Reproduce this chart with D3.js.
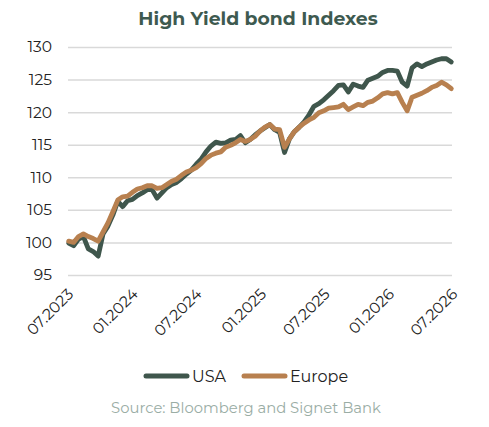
<!DOCTYPE html>
<html><head><meta charset="utf-8">
<script src="https://cdn.jsdelivr.net/npm/d3@7"></script>
<style>body{margin:0;background:#fff}svg{display:block}</style>
</head><body>
<svg id="c" width="489" height="427"></svg>
<script>
const dates = ["2023-07-03","2023-07-17","2023-07-31","2023-08-14","2023-08-28","2023-09-11","2023-09-25","2023-10-09","2023-10-23","2023-11-06","2023-11-20","2023-12-04","2023-12-18",
"2024-01-01","2024-01-15","2024-01-29","2024-02-12","2024-02-26","2024-03-11","2024-03-25","2024-04-08","2024-04-22","2024-05-06","2024-05-20","2024-06-03","2024-06-17","2024-07-01","2024-07-15","2024-07-29","2024-08-12","2024-08-26","2024-09-09","2024-09-23","2024-10-07","2024-10-21","2024-11-04","2024-11-18","2024-12-02","2024-12-16","2024-12-30",
"2025-01-13","2025-01-27","2025-02-10","2025-02-24","2025-03-10","2025-03-24","2025-04-07","2025-04-21","2025-05-05","2025-05-19","2025-06-02","2025-06-16","2025-06-30","2025-07-14","2025-07-28","2025-08-11","2025-08-25","2025-09-08","2025-09-22","2025-10-06","2025-10-20","2025-11-03","2025-11-17","2025-12-01","2025-12-15","2025-12-29",
"2026-01-12","2026-01-26","2026-02-09","2026-02-23","2026-03-09","2026-03-23","2026-04-06","2026-04-20","2026-05-04","2026-05-18","2026-06-01","2026-06-15","2026-06-29"];
const usa = [99.9,99.5,100.5,100.9,99.0,98.6,97.9,101.3,102.5,104.2,106.3,105.5,106.4,
106.6,107.2,107.6,108.1,108.1,106.8,107.6,108.4,108.9,109.2,109.8,110.5,111.1,112.0,112.8,113.9,114.8,115.4,115.2,115.3,115.7,115.8,116.4,115.3,115.8,116.5,117.1,
117.6,118.1,117.3,116.9,113.8,115.9,117.0,117.7,118.5,119.6,120.9,121.3,121.9,122.6,123.3,124.1,124.2,123.1,124.3,124.0,123.8,124.9,125.2,125.5,126.1,126.4,
126.4,126.3,124.6,124.0,126.8,127.4,127.0,127.4,127.7,128.0,128.2,128.2,127.7];
const europe = [100.2,100.0,100.9,101.3,100.9,100.6,100.2,101.6,103.0,104.7,106.5,107.0,107.1,
107.7,108.2,108.4,108.7,108.7,108.3,108.4,108.9,109.4,109.7,110.3,110.8,111.1,111.5,112.1,112.9,113.4,113.7,113.9,114.6,114.9,115.3,115.8,115.5,115.8,116.3,117.1,
117.7,118.1,117.4,117.3,114.6,115.9,117.0,117.7,118.3,118.8,119.2,119.9,120.2,120.6,120.7,120.8,121.2,120.4,120.8,121.2,121.0,121.5,121.7,122.2,122.8,123.0,
122.8,123.0,121.5,120.2,122.3,122.6,122.9,123.3,123.8,124.1,124.6,124.2,123.6];
const yTicks = [95,100,105,110,115,120,125,130];
const xTickLabels = ["07.2023","01.2024","07.2024","01.2025","07.2025","01.2026","07.2026"];
const xTickDates = ["2023-07-01","2024-01-01","2024-07-01","2025-01-01","2025-07-01","2026-01-01","2026-07-01"];
const seriesNames = ["USA","Europe"];
const colors = ["#3f564c","#b8804f"];

const FONT = "Montserrat, 'DejaVu Sans', sans-serif";
const svg = d3.select("#c");
const parse = d3.utcParse("%Y-%m-%d");
const L = 68, R = 452, T = 47, B = 275;
const x = d3.scaleUtc().domain([parse(xTickDates[0]), parse(xTickDates[xTickDates.length-1])]).range([L, R]);
const y = d3.scaleLinear().domain([95,130]).range([B, T]);

svg.append("text").attr("x", 258).attr("y", 25).attr("text-anchor","middle")
  .attr("font-family", FONT).attr("font-weight","bold").attr("font-size", 18.8)
  .attr("fill","#3e5a50").text("High Yield bond Indexes");

const yAxis = d3.axisLeft(y).tickValues(yTicks).tickSize(-(R-L)).tickFormat(d3.format("d"));
const gy = svg.append("g").attr("transform",`translate(${L},0)`).call(yAxis);
gy.select(".domain").remove();
gy.selectAll(".tick line").attr("stroke","#d9d9d9").attr("stroke-width",1.5);
gy.selectAll(".tick text").attr("x",-16).attr("font-family",FONT).attr("font-size",15.5).attr("fill","#222");

const xAxis = d3.axisBottom(x).tickValues(xTickDates.map(parse)).tickSize(0)
  .tickFormat((d,i)=>xTickLabels[i]);
const gx = svg.append("g").attr("transform",`translate(0,${B})`).call(xAxis);
gx.select(".domain").remove();
gx.selectAll(".tick text").attr("font-family",FONT).attr("font-size",15.5).attr("fill","#222")
  .attr("text-anchor","end").attr("dy",0).attr("y",0)
  .attr("transform","translate(6,20) rotate(-45)");

const data = [usa, europe];
const line = d3.line().x((d,i)=>x(parse(dates[i]))).y(d=>y(d)).curve(d3.curveLinear);
data.forEach((s,k)=>{
  svg.append("path").datum(s).attr("d", line).attr("fill","none")
    .attr("stroke", colors[k]).attr("stroke-width",4.8)
    .attr("stroke-linejoin","round").attr("stroke-linecap","round");
});

// legend
const lg = svg.append("g");
const legX = [146, 244];
seriesNames.forEach((n,k)=>{
  lg.append("line").attr("x1",legX[k]).attr("x2",legX[k]+41).attr("y1",376).attr("y2",376)
    .attr("stroke",colors[k]).attr("stroke-width",5).attr("stroke-linecap","round");
  lg.append("text").attr("x",legX[k]+46).attr("y",382).attr("font-family",FONT)
    .attr("font-size",16).attr("fill","#222").text(n);
});

svg.append("text").attr("x",246).attr("y",413).attr("text-anchor","middle")
  .attr("font-family",FONT).attr("font-size",14.8).attr("fill","#9aada5")
  .text("Source: Bloomberg and Signet Bank");
</script>
</body></html>
